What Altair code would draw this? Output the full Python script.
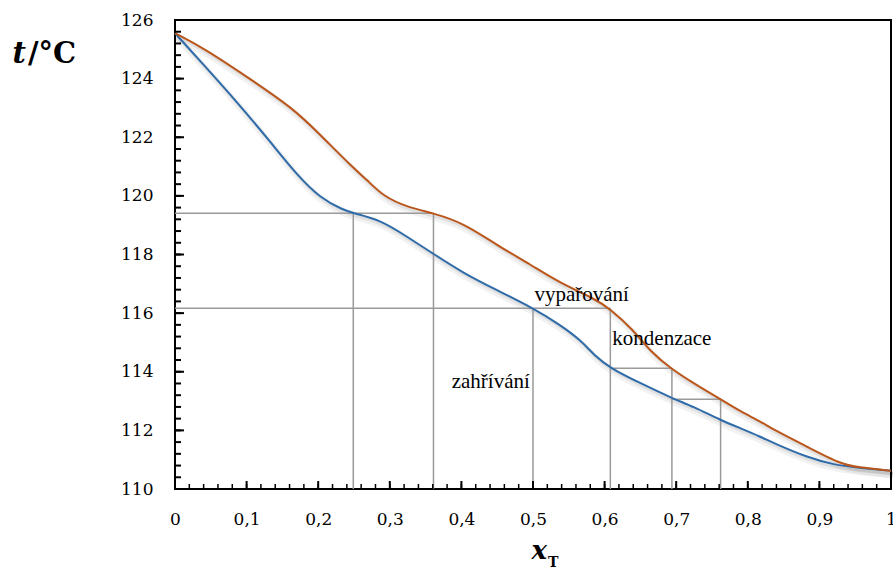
import altair as alt
import pandas as pd
import numpy as np

# ---- data ----
liq_x = [0.0, 0.04, 0.086, 0.133, 0.17, 0.203, 0.235, 0.249, 0.287, 0.324, 0.361, 0.403, 0.449, 0.5,
         0.538, 0.566, 0.585, 0.608, 0.65, 0.694, 0.724, 0.762, 0.79, 0.818, 0.837, 0.883, 0.921, 0.953, 1.0]
liq_t = [125.55, 124.47, 123.22, 121.85, 120.72, 119.92, 119.52, 119.41, 119.18, 118.61, 118.02, 117.36, 116.79, 116.17,
         115.6, 115.09, 114.57, 114.12, 113.61, 113.1, 112.81, 112.35, 112.07, 111.78, 111.56, 111.08, 110.82, 110.73, 110.62]

vap_x = [0.0, 0.04, 0.1, 0.165, 0.203, 0.249, 0.268, 0.291, 0.326, 0.361, 0.403, 0.449, 0.497, 0.538,
         0.585, 0.608, 0.64, 0.664, 0.692, 0.724, 0.762, 0.79, 0.818, 0.837, 0.883, 0.93, 0.953, 1.0]
vap_t = [125.55, 125.04, 124.07, 122.99, 122.08, 120.95, 120.55, 119.98, 119.6, 119.41, 119.07, 118.33, 117.65, 117.02,
         116.51, 116.14, 115.43, 114.69, 114.12, 113.61, 113.06, 112.64, 112.3, 112.01, 111.44, 110.85, 110.74, 110.62]

# construction lines (grey)
h_t = [119.41, 116.17, 114.12, 113.06]
h_x0 = [0.0, 0.0, 0.608, 0.694]
h_x1 = [0.361, 0.608, 0.694, 0.762]
v_x = [0.249, 0.361, 0.5, 0.608, 0.694, 0.762]
v_top = [119.41, 119.41, 116.17, 116.17, 114.12, 113.06]
v_bottom = [110.0] * len(v_x)

# annotations
ann_text = ["vypařování", "kondenzace", "zahřívání"]
ann_x = [0.568, 0.68, 0.441]
ann_t = [116.43, 114.91, 113.45]

# tick values
x_major = [0.0, 0.1, 0.2, 0.3, 0.4, 0.5, 0.6, 0.7, 0.8, 0.9, 1.0]
y_major = [110, 112, 114, 116, 118, 120, 122, 124, 126]
x_minor = [round(v, 2) for v in np.arange(0, 1.0001, 0.02)]
y_minor = [round(v, 1) for v in np.arange(110, 126.0001, 0.4)]

title_y_parts = ["t", "/°C"]
title_x_parts = ["x", "T"]

# ---- chart ----
W, H = 716, 469
xs = alt.Scale(domain=[0, 1], nice=False, zero=False)
ys = alt.Scale(domain=[110, 126], nice=False, zero=False)

curves = pd.concat([
    pd.DataFrame({"x": liq_x, "t": liq_t, "s": "liq"}),
    pd.DataFrame({"x": vap_x, "t": vap_t, "s": "vap"}),
])
cscale = alt.Scale(domain=["liq", "vap"], range=["#2E6BA8", "#BA561B"])

label_expr = ("datum.value == 0 ? '0' : datum.value == 1 ? '1' : "
              "replace(format(datum.value, '.1f'), '.', ',')")

SERIF_WIDE = "'DejaVu Serif', serif"
SERIF_TIMES = "'Liberation Serif', 'Times New Roman', serif"

x_axis = alt.Axis(values=x_major, labelExpr=label_expr, ticks=False, domain=False, grid=False,
                  labelPadding=22, labelFont=SERIF_WIDE, labelFontSize=17, labelColor="black",
                  labelFlush=False, labelOverlap=False, title=None)
y_axis = alt.Axis(values=y_major, ticks=False, domain=False, grid=False,
                  labelPadding=22, labelFont=SERIF_WIDE, labelFontSize=17, labelColor="black",
                  labelFlush=False, labelOverlap=False, title=None)

INTERP = "basis"

shadow1 = alt.Chart(curves).mark_line(interpolate=INTERP, color="black", opacity=0.05,
                                      strokeWidth=7, xOffset=2, yOffset=4).encode(
    x=alt.X("x:Q", scale=xs, axis=x_axis), y=alt.Y("t:Q", scale=ys, axis=y_axis), detail="s:N")
shadow2 = alt.Chart(curves).mark_line(interpolate=INTERP, color="black", opacity=0.07,
                                      strokeWidth=3, xOffset=2, yOffset=3).encode(
    x=alt.X("x:Q", scale=xs), y=alt.Y("t:Q", scale=ys), detail="s:N")

hdf = pd.DataFrame({"t": h_t, "x0": h_x0, "x1": h_x1})
hlines = alt.Chart(hdf).mark_rule(color="#9a9a9a", strokeWidth=1.5).encode(
    x=alt.X("x0:Q", scale=xs), x2="x1:Q", y=alt.Y("t:Q", scale=ys))
vdf = pd.DataFrame({"x": v_x, "t0": v_bottom, "t1": v_top})
vlines = alt.Chart(vdf).mark_rule(color="#9a9a9a", strokeWidth=1.5).encode(
    x=alt.X("x:Q", scale=xs), y=alt.Y("t0:Q", scale=ys), y2="t1:Q")

lines = alt.Chart(curves).mark_line(interpolate=INTERP, strokeWidth=2).encode(
    x=alt.X("x:Q", scale=xs), y=alt.Y("t:Q", scale=ys),
    color=alt.Color("s:N", scale=cscale, legend=None))

ann = alt.Chart(pd.DataFrame({"text": ann_text, "x": ann_x, "t": ann_t})).mark_text(
    font=SERIF_TIMES, fontSize=21, align="center", baseline="alphabetic", color="black").encode(
    x=alt.X("x:Q", scale=xs), y=alt.Y("t:Q", scale=ys), text="text:N")

# inward ticks
xt_major = alt.Chart(pd.DataFrame({"v": x_major})).mark_rule(color="black", strokeWidth=2).encode(
    x=alt.X("v:Q", scale=xs), y=alt.value(H), y2=alt.value(H - 8))
xt_minor = alt.Chart(pd.DataFrame({"v": x_minor})).mark_rule(color="black", strokeWidth=1.5).encode(
    x=alt.X("v:Q", scale=xs), y=alt.value(H), y2=alt.value(H - 5))
yt_major = alt.Chart(pd.DataFrame({"v": y_major})).mark_rule(color="black", strokeWidth=2).encode(
    y=alt.Y("v:Q", scale=ys), x=alt.value(0), x2=alt.value(9))
yt_minor = alt.Chart(pd.DataFrame({"v": y_minor})).mark_rule(color="black", strokeWidth=2).encode(
    y=alt.Y("v:Q", scale=ys), x=alt.value(0), x2=alt.value(6))

# axis titles
ty1 = alt.Chart(pd.DataFrame({"s": [title_y_parts[0]]})).mark_text(
    font=SERIF_WIDE, fontSize=29, fontWeight="bold", fontStyle="italic", align="right",
    baseline="alphabetic", color="black").encode(text="s:N", x=alt.value(-149), y=alt.value(43))
ty2 = alt.Chart(pd.DataFrame({"s": [title_y_parts[1]]})).mark_text(
    font=SERIF_WIDE, fontSize=29, fontWeight="bold", align="left",
    baseline="alphabetic", color="black").encode(text="s:N", x=alt.value(-147), y=alt.value(43))
tx1 = alt.Chart(pd.DataFrame({"s": [title_x_parts[0]]})).mark_text(
    font=SERIF_WIDE, fontSize=26, fontWeight="bold", fontStyle="italic", align="right",
    baseline="alphabetic", color="black").encode(text="s:N", x=alt.value(372), y=alt.value(539))
tx2 = alt.Chart(pd.DataFrame({"s": [title_x_parts[1]]})).mark_text(
    font=SERIF_WIDE, fontSize=14, fontWeight="bold", align="left",
    baseline="alphabetic", color="black").encode(text="s:N", x=alt.value(373), y=alt.value(547))

chart = alt.layer(
    shadow1, shadow2, hlines, vlines, lines, ann,
    xt_major, xt_minor, yt_major, yt_minor, ty1, ty2, tx1, tx2
).properties(
    width=W, height=H,
    padding={"left": 175, "top": 20, "right": 2, "bottom": 83},
    autosize=alt.AutoSizeParams(type="none"),
).configure_view(stroke="black", strokeWidth=2)

chart.save("out.html", embed_options={"renderer": "svg", "actions": False})
